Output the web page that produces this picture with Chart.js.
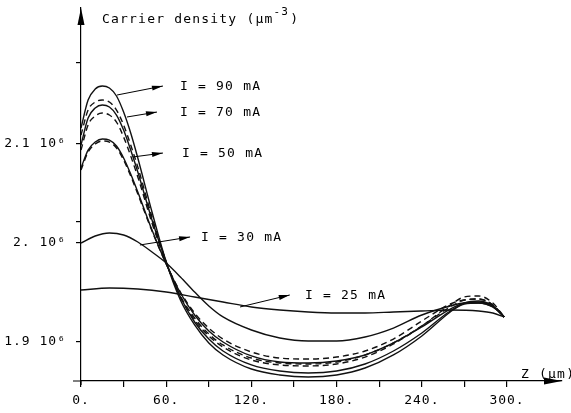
<!DOCTYPE html>
<html>
<head>
<meta charset="utf-8">
<script src="https://cdn.jsdelivr.net/npm/chart.js@4/dist/chart.umd.min.js"></script>
<style>
html,body{margin:0;padding:0;background:#fff;}
#wrap{width:571px;height:413px;position:relative;}
</style>
</head>
<body>
<div id="wrap"><canvas id="c" width="571" height="413"></canvas></div>
<script>
// ---- data (Z in µm, carrier density in units of 10^6 µm^-3) ----
const zBundle = [0,5,10,15,20,25,30,35,40,50,60,70,80,90,100,120,140,160,180,200,220,240,260,270,280,290,298];
const n90  = [2.1162,2.1444,2.1556,2.1586,2.1566,2.1485,2.1323,2.1111,2.0859,2.0313,1.9808,1.9424,1.9172,1.8990,1.8869,1.8727,1.8667,1.8646,1.8667,1.8737,1.8869,1.9061,1.9303,1.9394,1.9414,1.9364,1.9253];
const n80d = [2.1091,2.1343,2.1424,2.1444,2.1424,2.1343,2.1192,2.0990,2.0768,2.0263,1.9808,1.9455,1.9222,1.9061,1.8949,1.8818,1.8768,1.8758,1.8778,1.8848,1.8980,1.9162,1.9374,1.9455,1.9465,1.9394,1.9253];
const n70  = [2.0990,2.1263,2.1364,2.1394,2.1374,2.1293,2.1141,2.0939,2.0717,2.0232,1.9808,1.9455,1.9202,1.9030,1.8909,1.8768,1.8707,1.8687,1.8707,1.8778,1.8909,1.9091,1.9313,1.9384,1.9394,1.9354,1.9253];
const n70d = [2.0939,2.1192,2.1283,2.1313,2.1293,2.1222,2.1071,2.0879,2.0667,2.0202,1.9798,1.9465,1.9242,1.9081,1.8970,1.8838,1.8788,1.8778,1.8798,1.8869,1.8990,1.9162,1.9354,1.9424,1.9434,1.9374,1.9253];
const n50  = [2.0758,2.0939,2.1020,2.1051,2.1040,2.0980,2.0859,2.0697,2.0515,2.0131,1.9788,1.9495,1.9273,1.9111,1.9000,1.8859,1.8798,1.8788,1.8808,1.8869,1.8990,1.9152,1.9333,1.9394,1.9404,1.9364,1.9253];
const n50d = [2.0737,2.0919,2.1000,2.1030,2.1020,2.0960,2.0838,2.0677,2.0495,2.0121,1.9788,1.9505,1.9293,1.9141,1.9030,1.8899,1.8838,1.8828,1.8848,1.8909,1.9030,1.9212,1.9384,1.9424,1.9434,1.9374,1.9253];
const z30  = [0,10,20,30,40,50,60,70,80,90,100,120,140,160,180,200,220,240,260,270,280,290,298];
const n30  = [2.0000,2.0071,2.0101,2.0081,2.0010,1.9909,1.9798,1.9657,1.9505,1.9364,1.9253,1.9121,1.9040,1.9010,1.9010,1.9051,1.9141,1.9273,1.9364,1.9394,1.9394,1.9354,1.9253];
const z25  = [0,20,40,60,80,100,120,140,160,180,200,220,240,260,280,290,298];
const n25  = [1.9525,1.9545,1.9535,1.9505,1.9455,1.9404,1.9354,1.9323,1.9303,1.9293,1.9293,1.9303,1.9313,1.9323,1.9313,1.9293,1.9253];

const xTicks = [0,30,60,90,120,150,180,210,240,270,300];
const yTicks = [1.9,2.0,2.0212,2.1,2.1818];
const yLabels = {1.9:'1.9 10⁶', 2.0:'2. 10⁶', 2.1:'2.1 10⁶'};

// annotations: [label, arrow start z, start n, arrow end z, end n, label z]
const notes = [
  ['I = 90 mA', 25.4, 2.1495, 57.7, 2.1586, 69.7],
  ['I = 70 mA', 32.4, 2.1273, 53.5, 2.1323, 69.7],
  ['I = 50 mA', 36.6, 2.0869, 57.7, 2.0909, 71.1],
  ['I = 30 mA', 41.5, 1.9980, 76.8, 2.0061, 84.5],
  ['I = 25 mA', 112.0, 1.9354, 147.0, 1.9475, 157.7]
];

const pts = (zs, ns) => zs.map((z,i)=>({x:z, y:ns[i]}));
const FONT = '"DejaVu Sans Mono", "Liberation Mono", monospace';

function ds(label, zs, ns, dashed){
  return {label, data: pts(zs, ns), borderColor:'#111', borderWidth:1.4,
    borderDash: dashed ? [6,4] : [], pointRadius:0, fill:false,
    cubicInterpolationMode:'monotone'};
}

const decor = {
  id:'decor',
  beforeDraw(chart){
    const ctx = chart.ctx;
    ctx.save();
    ctx.fillStyle = '#fff';
    ctx.fillRect(0,0,chart.width,chart.height);
    ctx.restore();
    try { ctx.letterSpacing = '1px'; } catch(e){}
  },
  afterDraw(chart){
    const ctx = chart.ctx, xs = chart.scales.x, ys = chart.scales.y;
    const a = chart.chartArea;
    ctx.save();
    ctx.strokeStyle = '#000'; ctx.fillStyle = '#000'; ctx.lineWidth = 1.2;
    // axis extensions
    ctx.beginPath();
    ctx.moveTo(a.left, a.bottom); ctx.lineTo(a.left, a.bottom + 4);
    ctx.moveTo(a.left - 8, a.bottom); ctx.lineTo(a.left, a.bottom);
    ctx.stroke();
    // y arrow
    ctx.beginPath();
    ctx.moveTo(a.left, a.top); ctx.lineTo(a.left - 3.5, a.top + 17); ctx.lineTo(a.left + 3.5, a.top + 17); ctx.closePath(); ctx.fill();
    // x arrow
    ctx.beginPath();
    ctx.moveTo(a.right, a.bottom); ctx.lineTo(a.right - 18, a.bottom - 3.5); ctx.lineTo(a.right - 18, a.bottom + 3.5); ctx.closePath(); ctx.fill();

    try { ctx.letterSpacing = '1.2px'; } catch(e){}
    ctx.font = '13px ' + FONT;
    ctx.textBaseline = 'alphabetic';
    ctx.textAlign = 'left';
    // y title
    let t = 'Carrier density (µm';
    ctx.fillText(t, 102, 23);
    let w = ctx.measureText(t).width;
    ctx.font = '11px ' + FONT;
    ctx.fillText('-3', 102 + w, 15);
    let w2 = ctx.measureText('-3').width;
    ctx.font = '13px ' + FONT;
    ctx.fillText(')', 102 + w + w2 + 1, 23);
    // x title
    ctx.fillText('Z (µm)', 521, 378);

    // annotations with arrows
    ctx.lineWidth = 1;
    notes.forEach(([lab, z0, n0, z1, n1, zl])=>{
      const x0 = xs.getPixelForValue(z0), y0 = ys.getPixelForValue(n0);
      const x1 = xs.getPixelForValue(z1), y1 = ys.getPixelForValue(n1);
      ctx.beginPath(); ctx.moveTo(x0,y0); ctx.lineTo(x1,y1); ctx.stroke();
      const ang = Math.atan2(y1-y0, x1-x0);
      ctx.save(); ctx.translate(x1,y1); ctx.rotate(ang);
      ctx.beginPath(); ctx.moveTo(0,0); ctx.lineTo(-11,-2.5); ctx.lineTo(-11,2.5); ctx.closePath(); ctx.fill();
      ctx.restore();
      ctx.textBaseline = 'middle';
      ctx.fillText(lab, xs.getPixelForValue(zl), y1 + 1);
    });
    ctx.restore();
  }
};

new Chart(document.getElementById('c'), {
  type:'line',
  data:{ datasets:[
    ds('90 mA', zBundle, n90, false),
    ds('80 mA (dashed)', zBundle, n80d, true),
    ds('70 mA', zBundle, n70, false),
    ds('60 mA (dashed)', zBundle, n70d, true),
    ds('50 mA', zBundle, n50, false),
    ds('50 mA (dashed)', zBundle, n50d, true),
    ds('30 mA', z30, n30, false),
    ds('25 mA', z25, n25, false)
  ]},
  options:{
    responsive:false, animation:false, devicePixelRatio:1,
    layout:{padding:{top:8, right:9, left:0, bottom:0}},
    plugins:{legend:{display:false}, tooltip:{enabled:false}},
    scales:{
      x:{type:'linear', min:0, max:338.7,
        afterBuildTicks(ax){ ax.ticks = xTicks.map(v=>({value:v})); },
        afterFit(ax){ ax.height = 32; ax.paddingLeft = 0; ax.paddingRight = 0; },
        ticks:{autoSkip:false, maxRotation:0, padding:6, color:'#000',
          font:{family:FONT, size:13},
          callback:(v)=> (v % 60 === 0 ? v + '.' : '')},
        grid:{drawOnChartArea:false, drawTicks:true, tickLength:6, color:'#000', lineWidth:1.2},
        border:{display:true, color:'#000', width:1.2}
      },
      y:{type:'linear', min:1.8606, max:2.2374,
        afterBuildTicks(ax){ ax.ticks = yTicks.map(v=>({value:v})); },
        afterFit(ax){ ax.width = 81; ax.paddingTop = 0; ax.paddingBottom = 0; },
        ticks:{autoSkip:false, padding:10, color:'#000',
          font:{family:FONT, size:13},
          callback:(v)=> (yLabels[v] || '')},
        grid:{drawOnChartArea:false, drawTicks:true, tickLength:5, color:'#000', lineWidth:1.2},
        border:{display:true, color:'#000', width:1.2}
      }
    }
  },
  plugins:[decor]
});
</script>
</body>
</html>
